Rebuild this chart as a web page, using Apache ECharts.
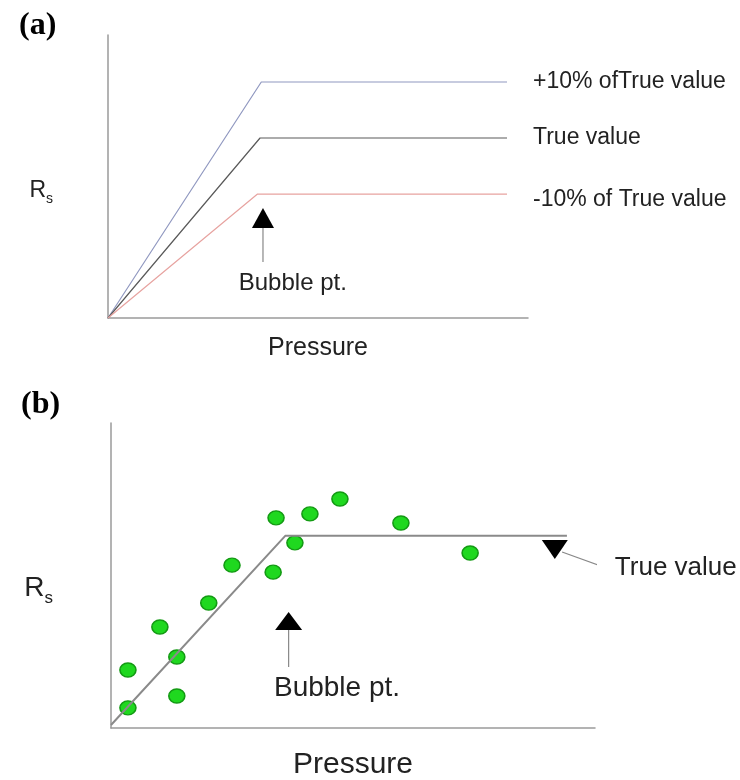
<!DOCTYPE html>
<html>
<head>
<meta charset="utf-8">
<script src="https://cdn.jsdelivr.net/npm/echarts@6/dist/echarts.min.js"></script>
<style>html,body{margin:0;padding:0;background:#fff;}#c{width:740px;height:780px;}</style>
</head>
<body>
<div id="c"></div>
<script>
// ---- Panel (a) data (schematic units 0..100) ----
const linesA_names = ['+10% ofTrue value', 'True value', '-10% of True value'];
const linePlus10 = [[0, 0], [36.5, 83.4], [95, 83.4]];
const lineTrue = [[0, 0], [36.2, 63.6], [95, 63.6]];
const lineMinus10 = [[0, 0], [35.6, 43.8], [95, 43.8]];
const arrowA_head = [36.9, 35.3];
const arrowA_shaft = [[36.9, 31.8], [36.9, 19.8]];
const arrowA_text = [44, 12.4];

// ---- Panel (b) data ----
const trueLineB = [[0, 1], [36, 63], [94.2, 63]];
const measuredB = [
  [3.5, 6.6], [3.5, 19.0], [10.1, 33.1], [13.6, 23.3], [13.6, 10.5],
  [20.2, 41.0], [25.0, 53.4], [33.5, 51.1], [34.1, 68.9], [38.0, 60.7],
  [41.1, 70.2], [47.3, 75.1], [59.9, 67.2], [74.2, 57.4]
];
const arrowB_head = [36.7, 35.1];
const arrowB_shaft = [[36.7, 32.1], [36.7, 20.0]];
const arrowB_text = [46.7, 13.1];
const trueArrowB_head = [91.7, 58.5];
const trueArrowB_shaft = [[93.2, 57.7], [101.7, 52.8]];
const trueArrowB_text = [104.1, 52.5];

const FONT = '"Liberation Sans", Arial, sans-serif';
const TXT = '#222';
const AXC = '#9a9a9a';

function axisX(gi, nameSize, gap) {
  return {
    type: 'value', gridIndex: gi, min: 0, max: 100,
    axisLine: { show: true, lineStyle: { color: AXC, width: 1.5 } },
    axisTick: { show: false }, axisLabel: { show: false }, splitLine: { show: false },
    name: 'Pressure', nameLocation: 'middle', nameGap: gap,
    nameTextStyle: { fontFamily: FONT, fontSize: nameSize, color: TXT }
  };
}
function axisY(gi, rSize, sSize, gap, padTop) {
  return {
    type: 'value', gridIndex: gi, min: 0, max: 100,
    axisLine: { show: true, lineStyle: { color: AXC, width: 1.5 } },
    axisTick: { show: false }, axisLabel: { show: false }, splitLine: { show: false },
    name: '{r|R}{s|s}', nameLocation: 'middle', nameGap: gap, nameRotate: 0,
    nameTextStyle: {
      fontFamily: FONT, color: TXT, padding: [padTop, 0, 0, 0],
      rich: {
        r: { fontFamily: FONT, fontSize: rSize, color: TXT, verticalAlign: 'middle', lineHeight: rSize + 8 },
        s: { fontFamily: FONT, fontSize: sSize, color: TXT, verticalAlign: 'bottom', lineHeight: sSize + 2 }
      }
    }
  };
}

function lineSeries(gi, name, data, color, offset) {
  return {
    type: 'line', name: name, xAxisIndex: gi, yAxisIndex: gi, data: data,
    showSymbol: false, symbol: 'none', silent: true, animation: false, clip: false,
    lineStyle: { color: color, width: 1.2 },
    endLabel: { show: true, formatter: name, distance: 26, offset: offset || [0, 0],
      fontFamily: FONT, fontSize: 23, color: TXT }
  };
}
function headSeries(gi, pt, size, rot) {
  return { type: 'scatter', xAxisIndex: gi, yAxisIndex: gi, data: [pt], symbol: 'triangle',
    symbolSize: size, symbolRotate: rot || 0, itemStyle: { color: '#000', opacity: 1 }, silent: true, animation: false, clip: false };
}
function shaftSeries(gi, pts) {
  return { type: 'line', xAxisIndex: gi, yAxisIndex: gi, data: pts, symbol: 'none', silent: true,
    animation: false, clip: false, lineStyle: { color: '#888', width: 1.2 } };
}
function textSeries(gi, pt, text, size, pos) {
  return { type: 'scatter', xAxisIndex: gi, yAxisIndex: gi, data: [pt], symbolSize: 0, silent: true,
    animation: false, clip: false, itemStyle: { opacity: 1 },
    label: { show: true, formatter: text, position: pos || 'inside', distance: 0,
      fontFamily: FONT, fontSize: size, color: TXT, opacity: 1 } };
}

const option = {
  backgroundColor: '#fff',
  animation: false,
  title: [
    { text: '(a)', left: 14, top: 5, textStyle: { fontFamily: '"Liberation Serif", "Times New Roman", serif', fontWeight: 'bold', fontSize: 32, color: '#000' } },
    { text: '(b)', left: 16, top: 384, textStyle: { fontFamily: '"Liberation Serif", "Times New Roman", serif', fontWeight: 'bold', fontSize: 32, color: '#000' } }
  ],
  grid: [
    { left: 108, top: 35, width: 420, height: 283, outerBoundsMode: 'none', containLabel: false },
    { left: 111, top: 423, width: 484, height: 305, outerBoundsMode: 'none', containLabel: false }
  ],
  xAxis: [axisX(0, 25, 18), axisX(1, 30, 22)],
  yAxis: [axisY(0, 23, 14, 55, 28), axisY(1, 28, 17, 58, 26)],
  series: [
    lineSeries(0, linesA_names[0], linePlus10, '#9098c0'),
    lineSeries(0, linesA_names[1], lineTrue, '#5a5a5a'),
    lineSeries(0, linesA_names[2], lineMinus10, '#e7a3a0', [0, 6]),
    headSeries(0, arrowA_head, [22, 20]),
    shaftSeries(0, arrowA_shaft),
    textSeries(0, arrowA_text, 'Bubble pt.', 24),

    { type: 'line', xAxisIndex: 1, yAxisIndex: 1, data: trueLineB, symbol: 'none', silent: true,
      animation: false, clip: false, lineStyle: { color: '#8a8a8a', width: 2 } },
    { type: 'scatter', xAxisIndex: 1, yAxisIndex: 1, data: measuredB, symbol: 'circle', symbolSize: [16, 14],
      itemStyle: { color: '#1fd81f', borderColor: '#139a13', borderWidth: 1.5, opacity: 1 }, silent: true, animation: false },
    headSeries(1, arrowB_head, [27, 18]),
    shaftSeries(1, arrowB_shaft),
    textSeries(1, arrowB_text, 'Bubble pt.', 28),
    headSeries(1, trueArrowB_head, [26, 19], 180),
    shaftSeries(1, trueArrowB_shaft),
    textSeries(1, trueArrowB_text, 'True value', 26, 'right')
  ]
};

const chart = echarts.init(document.getElementById('c'), null, { renderer: 'canvas' });
chart.setOption(option);
</script>
</body>
</html>
